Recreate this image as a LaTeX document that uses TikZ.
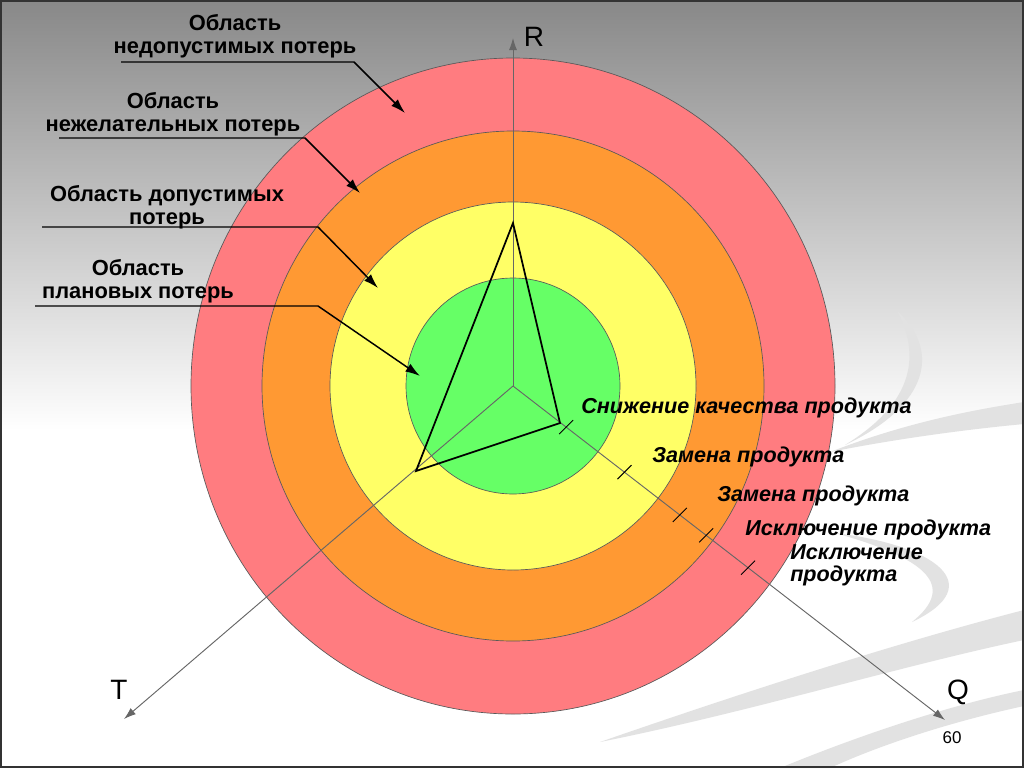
\documentclass[tikz,border=0pt]{standalone}
\usepackage{fontspec}
\setmainfont{Liberation Sans}
\usetikzlibrary{arrows.meta,calc}
\definecolor{ringred}{RGB}{255,124,128}
\definecolor{ringorange}{RGB}{255,153,51}
\definecolor{ringyellow}{RGB}{255,255,102}
\definecolor{ringgreen}{RGB}{102,255,102}
\definecolor{bgtop}{RGB}{136,136,136}
\definecolor{swooshgray}{RGB}{226,226,226}
\begin{document}
\begin{tikzpicture}[x=0.75pt,y=-0.75pt,
  ring/.style={draw=black!65,line width=0.5pt},
  axis/.style={draw=black!60,line width=0.7pt,-{Latex[length=9pt,width=6pt]}},
  tri/.style={draw=black,line width=1.3pt,line join=miter},
  tick/.style={draw=black,line width=0.7pt},
  callout/.style={draw=black,line width=1.1pt,-{Latex[length=11pt,width=7pt]}},
  leftlab/.style={font=\fontsize{16.4}{16.8}\selectfont\bfseries,align=center,inner sep=0pt,anchor=base},
  rightlab/.style={font=\fontsize{16.2}{16.5}\selectfont\bfseries\itshape,align=left,inner sep=0pt,anchor=base west},
  axislab/.style={font=\fontsize{21}{21}\selectfont,inner sep=0pt},
  swoosh/.style={fill=swooshgray}]
\useasboundingbox (0,0) rectangle (1024,768);
% background
\fill[top color=bgtop,bottom color=white] (0,0) rectangle (1024,430);
\fill[white] (0,430) rectangle (1024,768);
% decorative swooshes
\fill[swoosh] (898,312) .. controls (940,350) and (930,405) .. (845,445) .. controls (910,405) and (922,360) .. (898,312) -- cycle;
\fill[swoosh] (830,452) .. controls (900,425) and (960,412) .. (1024,402) -- (1024,424) .. controls (960,430) and (890,440) .. (830,452) -- cycle;
\fill[swoosh] (835,533) .. controls (935,545) and (990,585) .. (912,622) .. controls (958,585) and (925,558) .. (835,533) -- cycle;
\fill[swoosh] (600,742) .. controls (750,690) and (900,642) .. (1024,610) -- (1024,640) .. controls (900,666) and (750,712) .. (600,742) -- cycle;
\fill[swoosh] (780,768) .. controls (860,735) and (950,705) .. (1024,690) -- (1024,706) .. controls (950,722) and (880,745) .. (830,768) -- cycle;
% rings
\coordinate (O) at (513,386);
\filldraw[ring,fill=ringred] (O) ellipse [x radius=322,y radius=328];
\filldraw[ring,fill=ringorange] (O) ellipse [x radius=251,y radius=255];
\filldraw[ring,fill=ringyellow] (O) ellipse [x radius=183,y radius=184];
\filldraw[ring,fill=ringgreen] (O) ellipse [x radius=107,y radius=108];
% axes
\coordinate (Rtip) at (513,38);
\coordinate (Ttip) at (124,719);
\coordinate (Qtip) at (945,720);
\draw[axis] (O) -- (Rtip);
\draw[axis] (O) -- (Ttip);
\draw[axis] (O) -- (Qtip);
% ticks on Q axis
\foreach \t in {0.123,0.258,0.386,0.447,0.544}{
  \coordinate (tk) at ($(O)!\t!(Qtip)$);
  \draw[tick] ($(tk)+(-7,7)$) -- ($(tk)+(7,-7)$);
}
% triangle
\coordinate (V1) at (513,223);
\coordinate (V2) at (560,423);
\coordinate (V3) at (416,471);
\draw[tri] (V1) -- (V2) -- (V3) -- cycle;
% axis labels
\node[axislab] (R) at (534,37) {R};
\node[axislab] (T) at (119,690) {T};
\node[axislab] (Q) at (958,692) {Q};
\node[font=\fontsize{12.75}{13}\selectfont,inner sep=0pt] (pg) at (952,738) {60};
% left labels (anchor = baseline of last line)
\node[leftlab] (L1) at (235,53) {Область\\недопустимых потерь};
\node[leftlab] (L2) at (173,131) {Область\\нежелательных потерь};
\node[leftlab] (L3) at (167,224) {Область допустимых\\потерь};
\node[leftlab] (L4) at (138,298) {Область\\плановых потерь};
\coordinate (a1) at (121,62);  \coordinate (b1) at (354,62);  \coordinate (c1) at (405,113);
\coordinate (a2) at (59,138);  \coordinate (b2) at (305,138); \coordinate (c2) at (360,193);
\coordinate (a3) at (42,227);  \coordinate (b3) at (318,227); \coordinate (c3) at (378,288);
\coordinate (a4) at (35,306);  \coordinate (b4) at (318,306); \coordinate (c4) at (420,376);
\draw[callout] (a1) -- (b1) -- (c1);
\draw[callout] (a2) -- (b2) -- (c2);
\draw[callout] (a3) -- (b3) -- (c3);
\draw[callout] (a4) -- (b4) -- (c4);
% right labels
\node[rightlab] (r1) at (581,413) {Снижение качества продукта};
\node[rightlab] (r2) at (652,462) {Замена продукта};
\node[rightlab] (r3) at (717,501) {Замена продукта};
\node[rightlab] (r4) at (745,535) {Исключение продукта};
\node[rightlab] (r5) at (790,581) {Исключение\\продукта};
% frame
\draw[black!80,line width=1.5pt] (1,1) rectangle (1023,767);
\end{tikzpicture}
\end{document}
